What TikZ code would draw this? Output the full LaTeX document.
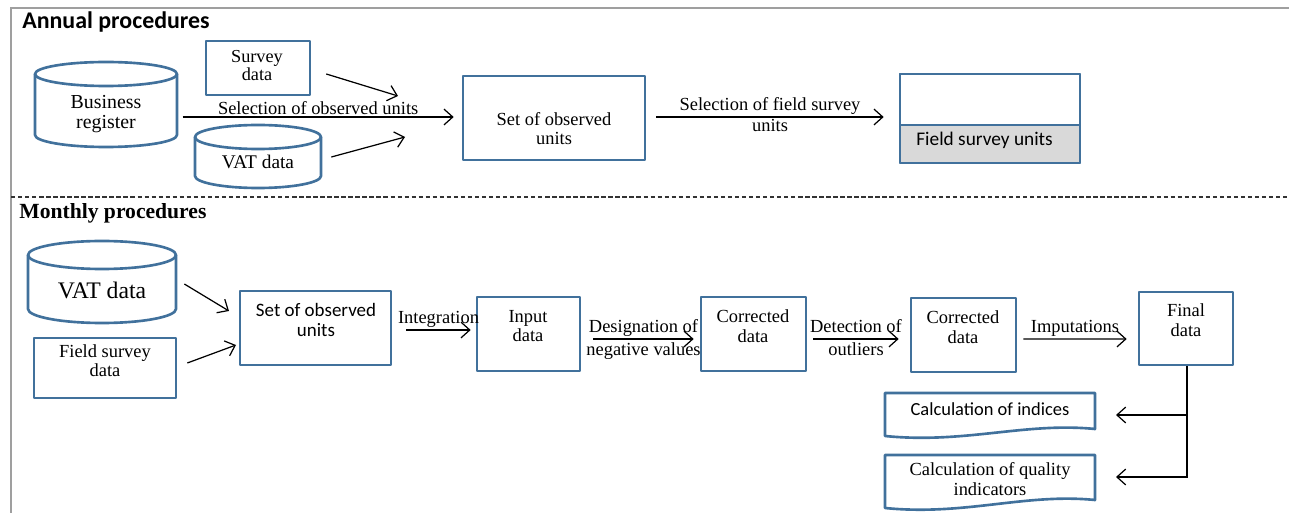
\documentclass[tikz,border=0pt]{standalone}
\usepackage{fontspec}
\setmainfont{Liberation Serif}
\newfontfamily\calibri{Carlito}
\usetikzlibrary{arrows.meta,calc}
\definecolor{shapeblue}{HTML}{41719C}
\definecolor{fillgray}{HTML}{D9D9D9}
\begin{document}
\begin{tikzpicture}[x=0.02cm,y=-0.02cm,
  blueline/.style={draw=shapeblue, line width=1.5pt, line join=round},
  dims/.style 2 args={minimum width=#1*0.02cm, minimum height=#2*0.02cm},
  box/.style={blueline, rectangle, inner sep=0pt},
  txt/.style={inner sep=0pt, align=center, font=\fontsize{10.5}{11.3}\selectfont},
  stxt/.style={inner sep=0pt, align=center, font=\calibri\fontsize{10.5}{11.3}\selectfont},
  conn/.style={line width=0.7pt, -{Straight Barb[length=5pt,width=9pt]}},
  plain/.style={line width=0.7pt}
]
\useasboundingbox (0,0) rectangle (1289,513);
% frame
\draw[gray!75, line width=0.9pt] (1289,8) -- (11,8) -- (11,513);
\draw[gray!40!black, line width=0.8pt, dash pattern=on 2.5pt off 1.5pt] (11,197) -- (1289,197);

%% ---------------- Annual ----------------
\node[anchor=west, inner sep=0pt, font=\calibri\bfseries\fontsize{13.6}{15}\selectfont] (annual) at (22,22) {Annual procedures};

% Business register cylinder
\draw[blueline, fill=white] (35,74) -- (35,135) .. controls (35,141.6) and (66.8,147) .. (106,147)
  .. controls (145.2,147) and (177,141.6) .. (177,135) -- (177,74);
\draw[blueline] (106,74) ellipse [x radius=71, y radius=12];
\node[txt, font=\fontsize{11.3}{11.3}\selectfont] (br) at (106,114) {Business\\register};

% Survey data
\node[box, dims={104}{54}] (sd) at (258,68) {};
\node[txt, font=\fontsize{10.4}{10.2}\selectfont] (sdt) at (257,66) {Survey\\data};

% VAT data (annual)
\draw[blueline] (195,137) -- (195,176) .. controls (195,182.6) and (223.2,188) .. (258,188)
  .. controls (292.8,188) and (321,182.6) .. (321,176) -- (321,137);
\draw[blueline] (258,137) ellipse [x radius=63, y radius=12];
\node[txt, dims={126}{20}, font=\fontsize{11}{13}\selectfont] (vat1) at (258,162) {VAT data};

% Set of observed units (annual)
\node[box, dims={182}{84}] (sou1) at (554,118) {};
\node[txt, font=\fontsize{10.5}{10.8}\selectfont] (sou1t) at (554,129) {Set of observed\\units};

% Field survey units
\node[box, dims={180}{89}] (fsu) at (990,118.5) {};
\fill[fillgray] (900,125) rectangle (1080,163);
\draw[blueline] (900,74) rectangle (1080,163);
\draw[blueline] (900,125) -- (1080,125);
\node[stxt, anchor=west, font=\calibri\fontsize{11}{13}\selectfont] (fsut) at (916,140) {Field survey units};

% annual connectors
\coordinate (aS) at (398,96);
\coordinate (aV) at (405,137);
\draw[conn] ($(sd.east)+(15,6)$) -- (aS);
\draw[conn] ($(vat1.east)+(10,-5)$) -- (aV);
\draw[conn] ($(br.east)+(41,3)$) -- node[above=1pt, txt] {Selection of observed units} ($(sou1.west)+(-8,-1)$);
\draw[conn] ($(sou1.east)+(10,-1)$) -- node[above=1.2pt, txt] {Selection of field survey} node[below=1pt, txt] {units} ($(fsu.west)+(-15,-1.5)$);

%% ---------------- Monthly ----------------
\node[anchor=west, inner sep=0pt, font=\bfseries\fontsize{12.3}{14}\selectfont] (monthly) at (19,213) {Monthly procedures};

% VAT data (monthly)
\draw[blueline] (28,255) -- (28,309) .. controls (28,316.7) and (61.1,323) .. (102,323)
  .. controls (142.9,323) and (176,316.7) .. (176,309) -- (176,255);
\draw[blueline] (102,255) ellipse [x radius=74, y radius=14];
\node[txt, dims={148}{24}, font=\fontsize{13.5}{15}\selectfont] (vat2) at (102,290) {VAT data};

% Field survey data
\node[box, dims={142}{60}] (fsd) at (105,368) {};
\node[txt, font=\fontsize{10.5}{10.8}\selectfont] (fsdt) at (105,361) {Field survey\\data};

% Set of observed units (monthly)
\node[box, dims={151}{74}] (sou2) at (315.5,328) {};
\node[stxt, font=\calibri\fontsize{10.8}{11.3}\selectfont] (sou2t) at (316,320) {Set of observed\\units};

% Input data
\node[box, dims={103}{74}] (inp) at (528.5,334) {};
\node[txt, font=\fontsize{10.5}{11.3}\selectfont] (inpt) at (528,326) {Input\\data};

% Corrected data 1
\node[box, dims={105}{74}] (cor1) at (753.5,334) {};
\node[txt, font=\fontsize{10.5}{11.3}\selectfont] (cor1t) at (753,326) {Corrected\\data};

% Corrected data 2
\node[box, dims={105}{74}] (cor2) at (963.5,335) {};
\node[txt, font=\fontsize{10.5}{11.3}\selectfont] (cor2t) at (963,327) {Corrected\\data};

% Final data
\node[box, dims={94}{73}] (fin) at (1186,328.5) {};
\node[txt, font=\fontsize{10.5}{11.3}\selectfont] (fint) at (1186,320) {Final\\data};

% documents
\draw[blueline] (885,393) -- (1095,393) -- (1095,429) .. controls (1025,422) and (965,444) .. (885,436) -- cycle;
\node[stxt, font=\calibri\fontsize{10.5}{12}\selectfont] (ind) at (990,409) {Calculation of indices};
\draw[blueline] (885,455) -- (1095,455) -- (1095,500) .. controls (1025,493) and (965,516) .. (885,508) -- cycle;
\node[txt, font=\fontsize{10.5}{11.3}\selectfont] (qual) at (990,479) {Calculation of quality\\indicators};

% monthly connectors
\coordinate (mV) at (229,311);
\coordinate (mF) at (236,345);
\draw[conn] ($(vat2.east)+(8,-6)$) -- (mV);
\draw[conn] ($(fsd.east)+(10,-5)$) -- (mF);
\draw[conn] ($(sou2.east)+(14,2)$) -- node[above=1pt, txt] {Integration} ($(inp.west)+(-5,-4)$);
\draw[conn] ($(inp.east)+(12,5)$) -- node[above=1pt, txt] {Designation of} node[below=2pt, txt] {negative values} ($(cor1.west)+(-6,5)$);
\draw[conn] ($(cor1.east)+(6,5)$) -- node[above=3pt, txt] {Detection of} node[below=2pt, txt] {outliers} ($(cor2.west)+(-11,4)$);
\draw[conn] ($(cor2.east)+(6,4)$) -- node[above=1pt, txt] {Imputations} ($(fin.west)+(-11,10.5)$);
\coordinate (dI) at (1116,415);
\coordinate (dQ) at (1116,477);
\draw[conn] ($(fin.south)+(1,0)$) |- (dI);
\draw[conn] ($(fin.south)+(1,0)$) |- (dQ);
\end{tikzpicture}
\end{document}
